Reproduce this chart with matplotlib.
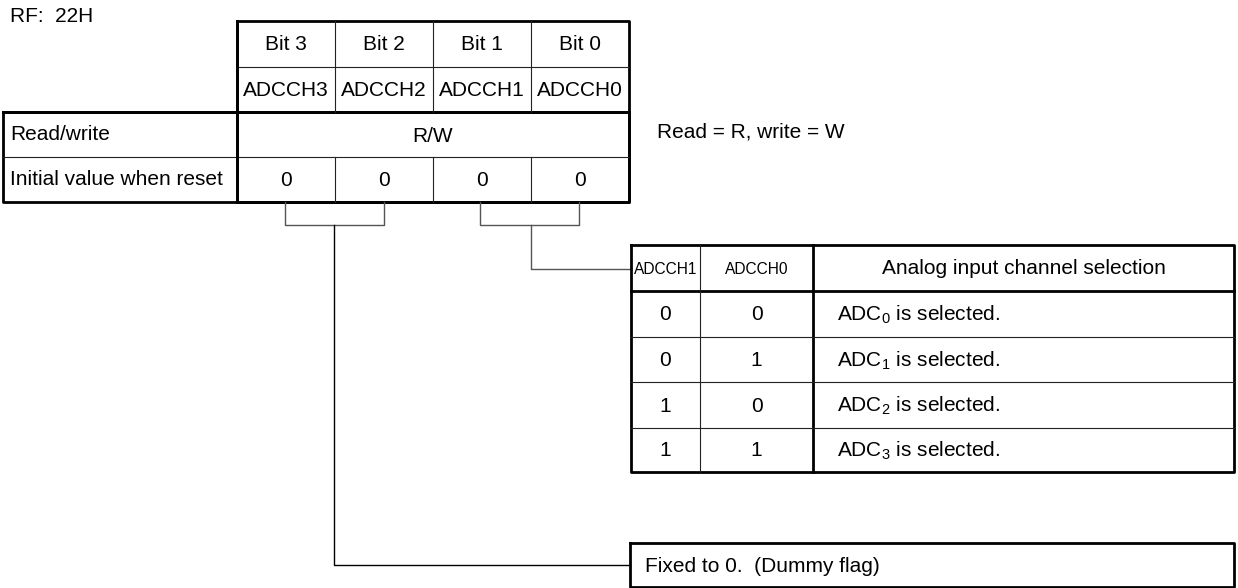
import matplotlib.pyplot as plt
from matplotlib import font_manager

plt.rcParams['font.family'] = ['Liberation Sans', 'DejaVu Sans']
plt.rcParams['mathtext.fontset'] = 'custom'
plt.rcParams['mathtext.rm'] = 'Liberation Sans'

register = "RF:  22H"
bit_names = ["Bit 3", "Bit 2", "Bit 1", "Bit 0"]
field_names = ["ADCCH3", "ADCCH2", "ADCCH1", "ADCCH0"]
access = "R/W"
init_values = ["0", "0", "0", "0"]
row_labels = ["Read/write", "Initial value when reset"]
access_note = "Read = R, write = W"

sel_header = ["ADCCH1", "ADCCH0", "Analog input channel selection"]
sel_ch1 = ["0", "0", "1", "1"]
sel_ch0 = ["0", "1", "0", "1"]
sel_desc = [r"ADC$_\mathrm{0}$ is selected.", r"ADC$_\mathrm{1}$ is selected.",
            r"ADC$_\mathrm{2}$ is selected.", r"ADC$_\mathrm{3}$ is selected."]
fixed_note = "Fixed to 0.  (Dummy flag)"

FS = 15
THICK = 2.0
THIN = 0.8
GREY = "#555555"

# narrow font for the squeezed header cells, if there is one
names = {f.name for f in font_manager.fontManager.ttflist}
if "Liberation Sans Narrow" in names:
    narrow = dict(family="Liberation Sans Narrow", fontsize=13.5)
else:
    narrow = dict(fontsize=11.2)

fig = plt.figure(figsize=(12.38, 5.88), dpi=100)
ax = fig.add_axes([0, 0, 1, 1])
ax.set_xlim(0, 1238)
ax.set_ylim(588, 0)
ax.axis("off")


def line(xs, ys, lw=THIN, c="#222222"):
    ax.plot(xs, ys, color=c, lw=lw, solid_capstyle="projecting")


def box(x0, y0, x1, y1, lw=THICK):
    line([x0, x1, x1, x0, x0], [y0, y0, y1, y1, y0], lw=lw, c="black")


# register table
ax.text(10, 17, register, fontsize=FS, va="center", ha="left")
cols = [237, 335, 433, 531, 629]
rows = [21, 67, 112, 157, 202]
box(cols[0], rows[0], cols[-1], rows[-1])
box(3, rows[2], cols[-1], rows[-1])
line([cols[0], cols[-1]], [rows[1]] * 2)
line([3, cols[-1]], [rows[2]] * 2, lw=THICK, c="black")
line([3, cols[-1]], [rows[3]] * 2)
line([cols[0]] * 2, [rows[0], rows[-1]], lw=THICK, c="black")
for x in cols[1:-1]:
    line([x, x], [rows[0], rows[2]])
    line([x, x], [rows[3], rows[4]])

for i in range(4):
    xc = (cols[i] + cols[i + 1]) / 2
    ax.text(xc, (rows[0] + rows[1]) / 2, bit_names[i], fontsize=FS, ha="center", va="center")
    ax.text(xc, (rows[1] + rows[2]) / 2 + 1, field_names[i], fontsize=FS, ha="center", va="center")
    ax.text(xc, (rows[3] + rows[4]) / 2 + 1, init_values[i], fontsize=FS, ha="center", va="center")
ax.text((cols[0] + cols[-1]) / 2, (rows[2] + rows[3]) / 2 + 2, access, fontsize=FS, ha="center", va="center")
for i, lab in enumerate(row_labels):
    ax.text(10, (rows[2 + i] + rows[3 + i]) / 2, lab, fontsize=FS, ha="left", va="center")
ax.text(657, 132, access_note, fontsize=FS, ha="left", va="center")

# brackets and leaders
line([285, 285, 384, 384], [202, 225, 225, 202], c=GREY, lw=1.0)
line([480, 480, 579, 579], [202, 225, 225, 202], c=GREY, lw=1.0)
line([531, 531, 631], [225, 269, 269], c=GREY, lw=1.0)
line([334, 334, 630], [225, 565, 565], lw=1.0, c="black")

# selection table
scols = [631, 700, 813, 1234]
srows = [245, 291, 337, 382, 428, 472]
box(scols[0], srows[0], scols[-1], srows[-1])
line([scols[0], scols[-1]], [srows[1]] * 2, lw=THICK, c="black")
line([scols[1]] * 2, [srows[0], srows[-1]])
line([scols[2]] * 2, [srows[0], srows[-1]], lw=THICK, c="black")
for y in srows[2:-1]:
    line([scols[0], scols[-1]], [y, y])

hy = (srows[0] + srows[1]) / 2 + 1
ax.text((scols[0] + scols[1]) / 2, hy, sel_header[0], ha="center", va="center", **narrow)
ax.text((scols[1] + scols[2]) / 2, hy, sel_header[1], ha="center", va="center", **narrow)
ax.text((scols[2] + scols[3]) / 2, hy, sel_header[2], fontsize=FS, ha="center", va="center")
for i in range(4):
    yc = (srows[i + 1] + srows[i + 2]) / 2 + 1
    ax.text((scols[0] + scols[1]) / 2, yc, sel_ch1[i], fontsize=FS, ha="center", va="center")
    ax.text((scols[1] + scols[2]) / 2, yc, sel_ch0[i], fontsize=FS, ha="center", va="center")
    ax.text(837, yc, sel_desc[i], fontsize=FS, ha="left", va="center")

# fixed bits box
box(630, 543, 1234, 587)
ax.text(645, 566, fixed_note, fontsize=FS, ha="left", va="center")

fig.savefig("out.png", dpi=100, facecolor="white")
